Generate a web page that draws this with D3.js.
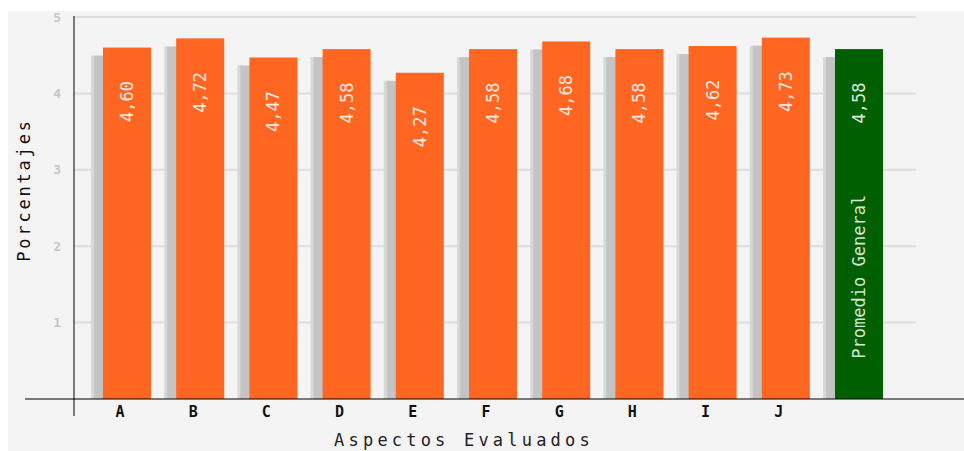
<!DOCTYPE html>
<html>
<head>
<meta charset="utf-8">
<script src="https://cdn.jsdelivr.net/npm/d3@7/dist/d3.min.js"></script>
<style>
  html, body { margin: 0; padding: 0; background: #ffffff; }
  svg { display: block; }
  text { font-family: "DejaVu Sans Mono", "Liberation Mono", monospace; }
</style>
</head>
<body>
<svg id="chart" width="964" height="451"></svg>
<script>
// ---- data ----
const categories = ["A", "B", "C", "D", "E", "F", "G", "H", "I", "J", "Promedio General"];
const tickLabels = ["A", "B", "C", "D", "E", "F", "G", "H", "I", "J", ""];
const values = [4.60, 4.72, 4.47, 4.58, 4.27, 4.58, 4.68, 4.58, 4.62, 4.73, 4.58];
const valueLabels = ["4,60", "4,72", "4,47", "4,58", "4,27", "4,58", "4,68", "4,58", "4,62", "4,73", "4,58"];
const yTicks = [1, 2, 3, 4, 5];
const yTitle = "Porcentajes";
const xTitle = "Aspectos Evaluados";

// ---- layout ----
const W = 964, H = 451;
const svg = d3.select("#chart");
const y0 = 399, yTop = 17, axisX = 74, gridRight = 916;

svg.append("rect").attr("x", 0).attr("y", 0).attr("width", W).attr("height", H).attr("fill", "#ffffff");
svg.append("rect").attr("x", 8).attr("y", 11).attr("width", W - 8).attr("height", H - 11).attr("fill", "#f4f4f4");

const y = d3.scaleLinear().domain([0, 5]).range([y0, yTop]);
const x = d3.scaleBand().domain(categories).range([90.4, 895.6]).paddingInner(0.344).paddingOuter(0.172);
const bw = x.bandwidth();

// gridlines
svg.append("g").selectAll("line").data(yTicks).join("line")
  .attr("x1", axisX).attr("x2", gridRight)
  .attr("y1", d => y(d)).attr("y2", d => y(d))
  .attr("stroke", "#dddddd").attr("stroke-width", 2);

// y tick labels
svg.append("g").selectAll("text").data(yTicks).join("text")
  .attr("x", 61).attr("y", d => y(d))
  .attr("text-anchor", "end").attr("dominant-baseline", "central")
  .attr("font-size", 13).attr("font-weight", "bold").attr("fill", "#c6c6c6")
  .text(d => d);

// shadows
const sh = svg.append("g");
sh.selectAll("rect.s1").data(values).join("rect").attr("class", "s1")
  .attr("x", (d, i) => x(categories[i]) - 12).attr("width", 4)
  .attr("y", d => y(d) + 8).attr("height", d => y0 - y(d) - 8)
  .attr("fill", "#d8d8d8");
sh.selectAll("rect.s2").data(values).join("rect").attr("class", "s2")
  .attr("x", (d, i) => x(categories[i]) - 9).attr("width", bw)
  .attr("y", d => y(d) + 8).attr("height", d => y0 - y(d) - 8)
  .attr("fill", "#c4c4c4");

// bars
svg.append("g").selectAll("rect").data(values).join("rect")
  .attr("x", (d, i) => x(categories[i])).attr("width", bw)
  .attr("y", d => y(d)).attr("height", d => y0 - y(d))
  .attr("fill", (d, i) => i === values.length - 1 ? "#005f00" : "#ff6622");

// value labels (rotated)
svg.append("g").selectAll("text").data(values).join("text")
  .attr("transform", (d, i) => `translate(${x(categories[i]) + bw / 2},${y(d) + 54}) rotate(-90)`)
  .attr("text-anchor", "middle").attr("dominant-baseline", "central")
  .attr("font-size", 17).attr("fill", "#ffffff").attr("fill-opacity", 0.88)
  .text((d, i) => valueLabels[i]);

// "Promedio General" inside the green bar
const last = categories[categories.length - 1];
svg.append("text")
  .attr("transform", `translate(${x(last) + bw / 2},${y(1.6)}) rotate(-90)`)
  .attr("text-anchor", "middle").attr("dominant-baseline", "central")
  .attr("font-size", 17).attr("fill", "#ffffff").attr("fill-opacity", 0.85)
  .text(last);

// axes
svg.append("line").attr("x1", 25).attr("x2", W).attr("y1", y0).attr("y2", y0)
  .attr("stroke", "#000").attr("stroke-opacity", 0.5).attr("stroke-width", 2);
svg.append("line").attr("x1", axisX).attr("x2", axisX).attr("y1", 16).attr("y2", 416)
  .attr("stroke", "#000").attr("stroke-opacity", 0.5).attr("stroke-width", 2);

// x tick labels
svg.append("g").selectAll("text").data(categories).join("text")
  .attr("x", d => x(d) + 17).attr("y", 412)
  .attr("text-anchor", "middle").attr("dominant-baseline", "central")
  .attr("font-size", 15).attr("font-weight", "bold").attr("fill", "#111")
  .text((d, i) => tickLabels[i]);

// axis titles
svg.append("text").attr("x", 464).attr("y", 440)
  .attr("text-anchor", "middle").attr("dominant-baseline", "central")
  .attr("font-size", 17).attr("letter-spacing", 4.2).attr("fill", "#222")
  .text(xTitle);
svg.append("text").attr("transform", "translate(24,190) rotate(-90)")
  .attr("text-anchor", "middle").attr("dominant-baseline", "central")
  .attr("font-size", 17).attr("letter-spacing", 2.8).attr("fill", "#111")
  .text(yTitle);
</script>
</body>
</html>
